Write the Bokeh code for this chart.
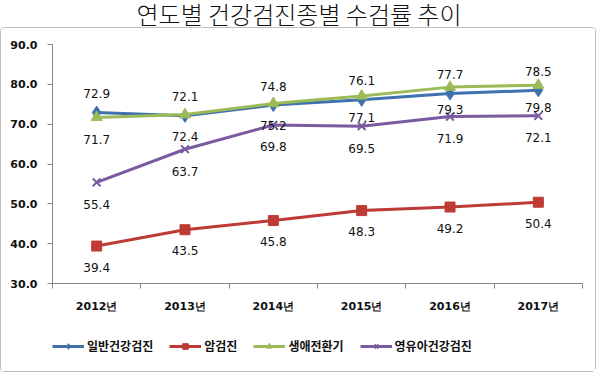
import numpy as np
from bokeh.plotting import figure
from bokeh.layouts import column
from bokeh.core.properties import value
from bokeh.models import (ColumnDataSource, Range1d, FixedTicker, LabelSet, Legend,
                          LegendItem, NumeralTickFormatter, Div)
from bokeh.embed import file_html
from bokeh.resources import INLINE

# ---------------- data ----------------
title_text = "연도별 건강검진종별 수검률 추이"
years = ["2012년", "2013년", "2014년", "2015년", "2016년", "2017년"]
general = [72.9, 72.1, 74.8, 76.1, 77.7, 78.5]       # 일반건강검진
cancer = [39.4, 43.5, 45.8, 48.3, 49.2, 50.4]        # 암검진
transition = [71.7, 72.4, 75.2, 77.1, 79.3, 79.8]    # 생애전환기
infant = [55.4, 63.7, 69.8, 69.5, 71.9, 72.1]        # 영유아건강검진
series_names = ["일반건강검진", "암검진", "생애전환기", "영유아건강검진"]
y_ticks = [30, 40, 50, 60, 70, 80, 90]

# ---------------- figure ----------------
n = len(years)
xc = [i + 0.5 for i in range(n)]

title = Div(text=title_text, width=598, height=27,
            styles={"font-family": "Noto Sans CJK KR", "font-size": "24px",
                    "font-weight": "300",
                    "color": "#111111", "text-align": "center",
                    "line-height": "27px", "width": "598px", "margin": "0",
                    "overflow": "visible"})

p = figure(width=594, height=310, output_backend="svg", toolbar_location=None,
           x_range=Range1d(0, n), y_range=Range1d(y_ticks[0], y_ticks[-1]),
           min_border_left=51, min_border_right=13, min_border_top=16,
           min_border_bottom=55)
p.outline_line_color = None
p.xgrid.visible = False
p.ygrid.visible = False
p.background_fill_color = "white"
p.border_fill_color = "white"

# axes
xa = p.xaxis[0]
xa.ticker = FixedTicker(ticks=xc, minor_ticks=list(range(n + 1)))
xa.major_label_overrides = {xc[i]: years[i] for i in range(n)}
xa.major_tick_line_color = None
xa.major_tick_out = 5
xa.minor_tick_out = 5
xa.minor_tick_in = 0
xa.minor_tick_line_color = "#868686"
xa.axis_line_color = "#868686"
xa.major_label_standoff = 11
xa.major_label_text_font = "DejaVu Sans"
xa.major_label_text_font_style = "bold"
xa.major_label_text_font_size = "11px"
xa.major_label_text_color = "#111111"

ya = p.yaxis[0]
ya.ticker = FixedTicker(ticks=y_ticks)
ya.formatter = NumeralTickFormatter(format="0.0")
ya.major_tick_out = 5
ya.major_tick_in = 0
ya.minor_tick_line_color = None
ya.major_tick_line_color = "#868686"
ya.axis_line_color = "#868686"
ya.major_label_standoff = 10
ya.major_label_text_font = "DejaVu Sans"
ya.major_label_text_font_style = "bold"
ya.major_label_text_font_size = "11px"
ya.major_label_text_color = "#111111"

# legend-only strip (shares the chart's border box); its ranges keep the
# series' own marks out of view so only the legend shows
lf = figure(width=594, height=33, output_backend="svg", toolbar_location=None,
            x_range=Range1d(-20, -19), y_range=Range1d(-20, -19),
            min_border=0, min_border_left=0, min_border_right=0,
            min_border_top=0, min_border_bottom=0,
            x_axis_type=None, y_axis_type=None)
lf.outline_line_color = None
lf.xgrid.visible = False
lf.ygrid.visible = False
lf.border_fill_color = "white"

# series
series = [
    (general, "#3F72AC", "diamond", 13, -19),
    (cancer, "#BE3B35", "square", 10, 21),
    (transition, "#9BBB59", "triangle", 11, 22),
    (infant, "#7A5BA0", "x", 11, 22),
]


def draw(fig, src, color, marker, size):
    lr = fig.line("x", "y", source=src, line_color=color, line_width=3)
    if marker == "x":
        sr = fig.scatter("x", "y", source=src, marker=marker, size=size,
                         line_color=color, line_width=2)
    else:
        sr = fig.scatter("x", "y", source=src, marker=marker, size=size,
                         fill_color=color, line_color=color)
    return lr, sr


items = []
for (vals, color, marker, size, yoff), name in zip(series, series_names):
    src = ColumnDataSource(dict(x=xc, y=vals, t=[f"{v:.1f}" for v in vals]))
    draw(p, src, color, marker, size)
    labels = LabelSet(x="x", y="y", text="t", source=src, y_offset=-yoff,
                      text_align="center", text_baseline="middle",
                      text_font=value("DejaVu Sans"), text_font_size="12px",
                      text_color="#111111")
    p.add_layout(labels)
    lr, sr = draw(lf, src, color, marker, size)
    items.append(LegendItem(label=name, renderers=[lr, sr]))

legend = Legend(items=items, orientation="horizontal", location=(0, 17),
                border_line_color=None, background_fill_alpha=0,
                glyph_width=32, glyph_height=14, label_standoff=3, spacing=16,
                padding=0, margin=0,
                label_text_font="Noto Sans CJK KR", label_text_font_style="bold",
                label_text_font_size="12px", label_text_color="#111111")
lf.add_layout(legend, "center")

box = column(p, lf, spacing=0,
             styles={"border": "1px solid #BFBFBF", "border-radius": "4px"})
layout = column(title, box, spacing=0)
open("out.html", "w").write(file_html(layout, INLINE))
